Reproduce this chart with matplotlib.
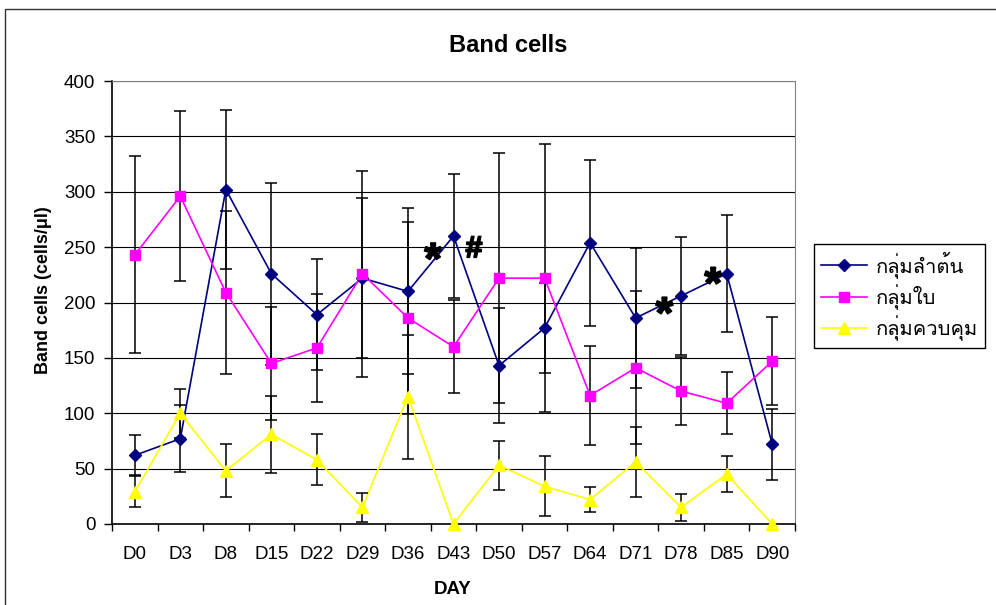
import matplotlib
matplotlib.use('Agg')
import matplotlib.pyplot as plt
import matplotlib.patheffects as pe
from matplotlib import font_manager
from matplotlib.ft2font import FT2Font
from matplotlib.patches import Rectangle
from matplotlib.lines import Line2D
import numpy as np

days = ['D0', 'D3', 'D8', 'D15', 'D22', 'D29', 'D36', 'D43',
        'D50', 'D57', 'D64', 'D71', 'D78', 'D85', 'D90']

# กลุ่มลำต้น (stem group)
stem = [62, 77, 302, 226, 189, 222, 210, 260, 143, 177, 254, 186, 206, 226, 72]
stem_err = [18, 30, 72, 82, 50, 72, 75, 56, 52, 41, 75, 63, 53, 53, 32]

# กลุ่มใบ (leaf group)
leaf = [243, 296, 209, 145, 159, 226, 186, 160, 222, 222, 116, 141, 120, 109, 147]
leaf_err = [89, 77, 74, 51, 49, 93, 87, 42, 113, 121, 45, 69, 31, 28, 40]

# กลุ่มควบคุม (control group)
control = [29, 100, 48, 81, 58, 15, 115, 0, 53, 34, 22, 56, 15, 45, 0]
control_err = [14, 22, 24, 35, 23, 13, 56, 0, 22, 27, 11, 32, 12, 16, 0]

labels = ['กลุ่มลำต้น', 'กลุ่มใบ', 'กลุ่มควบคุม']

# significance marks: (x position in category units, y value, symbol)
marks_x = [6.55, 7.45, 11.63, 12.7]
marks_y = [245, 248, 196, 223]
marks_txt = ['*', '#', '*', '*']


def thai_font():
    """
    :return: Name of an installed family that has Thai glyphs, or None.
    """
    for f in font_manager.fontManager.ttflist:
        try:
            if ord('ก') in FT2Font(f.fname).get_charmap():
                return f.name
        except Exception:
            pass
    return None


families = ['Liberation Sans']
tf = thai_font()
if tf:
    families.append(tf)
families.append('DejaVu Sans')
plt.rcParams['font.family'] = families

W, H = 996, 605
fig = plt.figure(figsize=(W / 100, H / 100), dpi=100)

# outer chart border (right and bottom edges fall outside the image)
fig.patches.append(Rectangle((5 / W, -0.1), 1.2, 1 - 9 / H + 0.1, transform=fig.transFigure,
                             fill=False, ec='#333333', lw=1))

ax = fig.add_axes([112 / W, 1 - 524 / H, (795 - 112) / W, (524 - 81) / H])

x = np.arange(len(days))
series = [
    (stem, stem_err, '#000080', 'D', 6),
    (leaf, leaf_err, '#FF00FF', 's', 6.5),
    (control, control_err, '#FFFF00', '^', 8),
]

handles = []
for (vals, errs, color, marker, ms), label in zip(series, labels):
    vals = np.array(vals, dtype=float)
    errs = np.array(errs, dtype=float)
    ax.plot(x, vals, color=color, lw=1.2, zorder=2)
    m = errs > 0
    ax.errorbar(x[m], vals[m], yerr=errs[m], fmt='none', ecolor='black',
                elinewidth=1.1, capsize=4, capthick=1.1, zorder=3)
    ax.plot(x, vals, ls='none', marker=marker, ms=ms, mfc=color, mec=color,
            clip_on=False, zorder=4)
    handles.append(Line2D([], [], color=color, lw=1.2, marker=marker, ms=ms,
                          mfc=color, mec=color))

# the glyphs sit above their baseline, so shift them down to centre on the point
for mx, my, t in zip(marks_x, marks_y, marks_txt):
    fs = 32 if t == '*' else 22
    drop = 0.47 * fs if t == '*' else 0.26 * fs
    ax.annotate(t, (mx, my), xytext=(0, -drop), textcoords='offset points',
                fontsize=fs, fontweight='bold', ha='center', va='baseline', zorder=5,
                path_effects=[pe.withStroke(linewidth=1.2, foreground='black')])

ax.set_xlim(-0.5, len(days) - 0.5)
ax.set_ylim(0, 400)
ax.set_yticks(range(0, 401, 50))
ax.set_xticks(x)
ax.set_xticklabels(days)
ax.set_xticks(np.arange(-0.5, len(days), 1), minor=True)
ax.tick_params(axis='x', which='major', length=0, pad=16, labelsize=13.5)
ax.tick_params(axis='x', which='minor', length=5, width=1, direction='out', color='black')
ax.tick_params(axis='y', length=6, width=1, direction='out', pad=6, labelsize=13.5)

ax.yaxis.grid(True, color='black', lw=0.8)
ax.set_axisbelow(True)
for side in ['top', 'right']:
    ax.spines[side].set_color('#808080')
for side in ['left', 'bottom']:
    ax.spines[side].set_color('black')
    ax.spines[side].set_linewidth(1.2)

fig.text(508 / W, 1 - 46 / H, 'Band cells', ha='center', va='center', fontsize=17, fontweight='bold')
fig.text(44 / W, 1 - 290 / H, 'Band cells (cells/μl)', rotation=90, ha='center', va='center',
         fontsize=13, fontweight='bold')
fig.text(453 / W, 1 - 589 / H, 'DAY', ha='center', va='center', fontsize=13.5, fontweight='bold')

fig.legend(handles, labels, loc='upper left', bbox_to_anchor=(814 / W, 1 - 244 / H),
           borderaxespad=0, fontsize=14.5, frameon=True, fancybox=False, edgecolor='black',
           framealpha=1, handlelength=2.3, handletextpad=0.4, labelspacing=0.3, borderpad=0.35)

fig.savefig('out.png', dpi=100)
